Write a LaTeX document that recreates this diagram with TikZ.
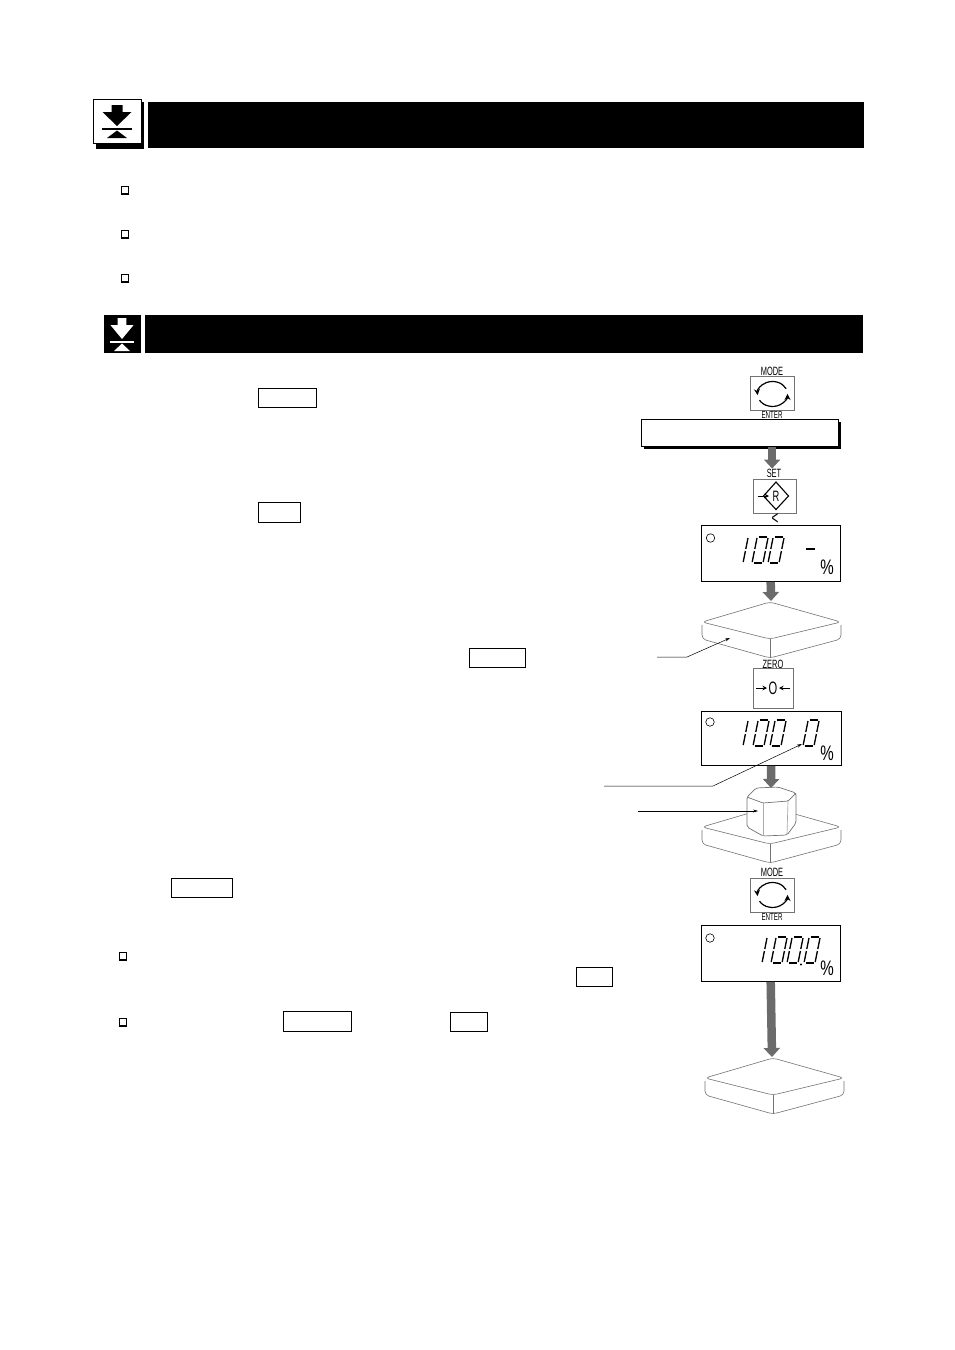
\documentclass[tikz,border=0pt]{standalone}
\usepackage{fontspec}
\setmainfont{Liberation Sans}
\setsansfont{Liberation Sans}
\usetikzlibrary{arrows.meta}
\definecolor{flowgray}{gray}{0.42}
\definecolor{thingray}{gray}{0.45}
\tikzset{
    titlebar/.style={fill=black, draw=none, inner sep=0pt, anchor=north west},
    keyword/.style={draw, line width=0.8pt, inner sep=0pt, anchor=north west},
    checkbox/.style={draw, line width=1pt, minimum size=7pt, inner sep=0pt},
    keypad/.style={draw=thingray, line width=0.7pt, fill=white, inner sep=0pt, anchor=north west},
    lcdpanel/.style={draw, line width=0.9pt, fill=white, inner sep=0pt, anchor=north west},
    keylabel/.style={font=\fontsize{12}{12}\selectfont, inner sep=0pt},
    keysmall/.style={font=\fontsize{10}{10}\selectfont, inner sep=0pt},
    lcdlamp/.style={draw, circle, line width=0.6pt, minimum size=8.5pt, inner sep=0pt},
    percent/.style={font=\fontsize{21}{21}\selectfont, inner sep=0pt},
    flowarrow/.style={draw=flowgray, line width=8.5pt, -{Triangle[length=9pt,width=16pt]}},
    leader/.style={line width=0.5pt, -{Stealth[length=5pt,width=3pt]}},
    platelines/.style={draw=thingray, line width=0.6pt, rounded corners=4pt, fill=white},
    keyicon/.style={line width=1.2pt, -{Stealth[length=6pt,width=6pt]}},
    keytick/.style={line width=1pt, -{Stealth[length=4.5pt,width=4.5pt]}}
}
\newcommand{\narrowtext}[1]{\scalebox{.62}[1]{#1}}
\newcommand{\pcttext}{\scalebox{.72}[1]{\%}}
\newcommand{\lcdbar}[2]{\draw[line width=1.3pt] (#1) -- (#2);}
\newcommand{\lcdone}[2]{
    \begin{scope}[shift={(#1,#2)}, xslant=0.2]
        \lcdbar{11,-1}{11,-12}
        \lcdbar{11,-14}{11,-25}
    \end{scope}
}
\newcommand{\lcdzero}[2]{
    \begin{scope}[shift={(#1,#2)}, xslant=0.2]
        \lcdbar{0,-1}{0,-12}
        \lcdbar{0,-14}{0,-25}
        \lcdbar{11,-1}{11,-12}
        \lcdbar{11,-14}{11,-25}
        \lcdbar{1.5,0}{9.5,0}
        \lcdbar{1.5,-26}{9.5,-26}
    \end{scope}
}
\newcommand{\tareicon}[4]{
    \begin{scope}[shift={(#1,#2)}, xscale=#3]
        \fill[#4] (-5.5,0) -- (5.5,0) -- (5.5,7) -- (14.5,7) -- (0,21) -- (-14.5,7) -- (-5.5,7) -- cycle;
        \draw[#4, line width=1.4pt] (-15,24) -- (15,24);
        \fill[#4] (0,25.5) -- (10,33) -- (-10,33) -- cycle;
    \end{scope}
}
\newcommand{\weighplate}[3]{
    \begin{scope}[shift={(#1,#2)}]
        \draw[platelines] (-68,23) -- (-68,37) -- (0,#3) -- (71,37) -- (71,23);
        \draw[platelines] (0,0) -- (71,20) -- (0,37) -- (-68,20) -- cycle;
        \draw[draw=thingray, line width=0.6pt] (0,37) -- (0,#3);
    \end{scope}
}
\newcommand{\modearcs}[2]{
    \begin{scope}[shift={(#1,#2)}]
        \draw[keyicon] (13.6,-5.3) arc[start angle=-25, end angle=-185, x radius=15, y radius=12.5];
        \draw[keyicon] (-13,6.2) arc[start angle=150, end angle=0, x radius=15, y radius=12.5];
    \end{scope}
}
\begin{document}
\begin{tikzpicture}[x=1pt, y=-1pt]
    \useasboundingbox (0,0) rectangle (954,1350);
    \node[titlebar, minimum width=716pt, minimum height=46pt] (headbar) at (148,102) {};
    \node[titlebar, minimum width=718pt, minimum height=38pt] (stepbar) at (145,315) {};
    \node[titlebar, minimum width=37pt, minimum height=38pt] (stepicon) at (104,315) {};
    \fill (96,102) rectangle (144,149);
    \node[draw, line width=0.9pt, fill=white, minimum width=48pt, minimum height=44pt, inner sep=0pt, anchor=north west] (headicon) at (93,99) {};
    \tareicon{117}{105}{1}{black}
    \tareicon{122}{318}{0.8}{white}

    \foreach \y in {190,234,278} {
            \node[checkbox] (check\y) at (124.5,\y) {};
            \draw[line width=1.4pt] (check\y.south west) -- (check\y.south east);
        }
    \foreach \y in {956,1022} {
            \node[checkbox] (check\y) at (122.5,\y) {};
            \draw[line width=1.4pt] (check\y.south west) -- (check\y.south east);
        }

    \node[keyword, minimum width=58pt, minimum height=19pt] (wordone) at (258,388) {};
    \node[keyword, minimum width=41.5pt, minimum height=20pt] (wordtwo) at (258,502) {};
    \node[keyword, minimum width=55.5pt, minimum height=19pt] (wordthree) at (469,648) {};
    \node[keyword, minimum width=60.5pt, minimum height=19pt] (wordfour) at (171,878) {};
    \node[keyword, minimum width=35.5pt, minimum height=19pt] (wordfive) at (576,967) {};
    \node[keyword, minimum width=67.5pt, minimum height=20pt] (wordsix) at (283,1011) {};
    \node[keyword, minimum width=36.5pt, minimum height=19pt] (wordseven) at (450,1012) {};

    \weighplate{770}{602}{56}
    \weighplate{770}{807}{56}
    \weighplate{773}{1058}{56}

    \node[keylabel] (modeone) at (772,371) {\narrowtext{MODE}};
    \node[keypad, minimum width=43.5pt, minimum height=34pt] (modekey) at (750,376) {};
    \node[keysmall] (enterone) at (772,415) {\narrowtext{ENTER}};
    \modearcs{772.5}{394}

    \fill (644,422) rectangle (841,449);
    \node[lcdpanel, minimum width=196.5pt, minimum height=27pt] (resultbox) at (641,419) {};

    \node[keylabel] (setlabel) at (774,473) {\narrowtext{SET}};
    \node[keypad, minimum width=43.5pt, minimum height=34pt] (setkey) at (752.5,479) {};
    \draw[line width=1.1pt] (776,482) -- (788.5,496) -- (776,509.5) -- (763.5,496) -- cycle;
    \draw[keytick] (758,496) -- (769,496);
    \node[keylabel, font=\fontsize{15}{15}\selectfont] (rlabel) at (776,496) {\narrowtext{R}};
    \node[keylabel, font=\fontsize{19}{19}\selectfont] (cursor) at (775,519) {\narrowtext{<}};

    \node[lcdpanel, minimum width=138.5pt, minimum height=56pt] (lcdfirst) at (701,525) {};
    \node[lcdlamp] (lampfirst) at (710.5,538) {};
    \lcdone{732}{563}
    \lcdzero{752}{563}
    \lcdzero{768}{563}
    \draw[line width=1.5pt] (806,549) -- (814.5,549);
    \node[percent] (pctfirst) at (827,567) {\pcttext};

    \node[keylabel] (zerolabel) at (773,664) {\narrowtext{ZERO}};
    \node[keypad, minimum width=39.5pt, minimum height=40pt] (zerokey) at (753,668) {};
    \node[keylabel, font=\fontsize{18}{18}\selectfont] (zeroring) at (773,688) {\narrowtext{O}};
    \draw[keytick] (756,688) -- (767,688);
    \draw[keytick] (790,688) -- (779,688);

    \node[lcdpanel, minimum width=139.5pt, minimum height=54pt] (lcdsecond) at (701,711) {};
    \node[lcdlamp] (lampsecond) at (710,722) {};
    \lcdone{732}{746}
    \lcdzero{753}{746}
    \lcdzero{770}{746}
    \lcdzero{803}{746}
    \node[percent] (pctsecond) at (827,753) {\pcttext};

    \draw[fill=white, draw=thingray, line width=0.7pt, rounded corners=2pt] (747,797) -- (756,788) -- (778,787) -- (796,793) -- (796,823) -- (787,835) -- (763,836) -- (747,827) -- cycle;
    \draw[draw=thingray, line width=0.7pt, rounded corners=1pt] (747,797) -- (763,803) -- (788,801) -- (796,793);
    \draw[draw=thingray!60, line width=0.7pt] (763,803) -- (763,836);
    \draw[draw=thingray!60, line width=0.7pt] (788,801) -- (787,835);
    \coordinate (weighttop) at (771,788);

    \node[keylabel] (modetwo) at (772,872) {\narrowtext{MODE}};
    \node[keypad, minimum width=43.5pt, minimum height=34pt] (modekeytwo) at (750,878) {};
    \node[keysmall] (entertwo) at (772,917) {\narrowtext{ENTER}};
    \modearcs{772.5}{895}

    \node[lcdpanel, minimum width=139.5pt, minimum height=56pt] (lcdthird) at (700.5,925) {};
    \node[lcdlamp] (lampthird) at (710,938) {};
    \lcdone{751}{963}
    \lcdzero{771}{963}
    \lcdzero{787}{963}
    \lcdzero{804}{963}
    \fill (801,964.5) circle (1.2pt);
    \node[percent] (pctthird) at (827,968) {\pcttext};

    \coordinate (plateone) at (771,601);
    \coordinate (platethree) at (772,1057);
    \draw[flowarrow] (modekey |- resultbox.south) -- (modekey |- setlabel.north);
    \draw[flowarrow] (lcdfirst.south) -- (plateone);
    \draw[flowarrow] (lcdsecond.south) -- (weighttop);
    \draw[flowarrow] (lcdthird.south) -- (platethree);

    \coordinate (platefree) at (657,657);
    \coordinate (platebend) at (687,657);
    \coordinate (platetip) at (730,638);
    \draw[leader] (platefree) -- (platebend) -- (platetip);
    \coordinate (zerofree) at (604,786);
    \coordinate (zerobend) at (713,786);
    \coordinate (zerotip) at (802,744);
    \draw[leader] (zerofree) -- (zerobend) -- (zerotip);
    \coordinate (weightfree) at (638,811);
    \coordinate (weighttip) at (758,811);
    \draw[leader] (weightfree) -- (weighttip);
\end{tikzpicture}
\end{document}
